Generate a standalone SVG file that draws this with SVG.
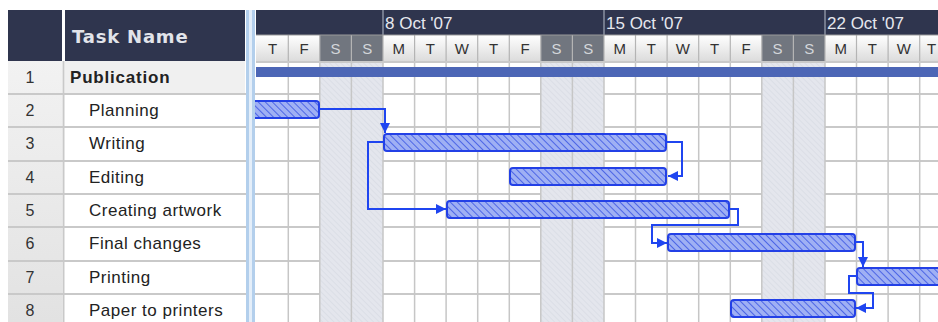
<svg xmlns="http://www.w3.org/2000/svg" width="938" height="322" viewBox="0 0 938 322">
<defs>
<style>
.hdr{fill:#2f354e}
.hdrtxt{font-family:"Liberation Sans",Arial,sans-serif;font-size:17px;fill:#e6e8ee}
.day{font-family:"Liberation Sans",Arial,sans-serif;font-size:15px;fill:#333;text-anchor:middle}
.dayw{font-family:"Liberation Sans",Arial,sans-serif;font-size:15px;fill:#d4d6da;text-anchor:middle}
.num{font-family:"Liberation Sans",Arial,sans-serif;font-size:16px;fill:#333;text-anchor:middle}
.task{font-family:"Liberation Sans",Arial,sans-serif;font-size:17px;letter-spacing:0.5px;fill:#222}
.vg{stroke:#c6c6c6;stroke-width:1.5}
.hg{stroke:#c9c9c9;stroke-width:2}
.bar{fill:url(#hatch);stroke:#2340e6;stroke-width:2}
.con{fill:none;stroke:#1f45f0;stroke-width:2}
</style>
<pattern id="hatch" width="5" height="5" patternUnits="userSpaceOnUse" patternTransform="rotate(-45)">
<rect width="5" height="5" fill="#9fb0f4"/>
<line x1="0" y1="0" x2="0" y2="5" stroke="#4d66e6" stroke-width="2"/>
</pattern>
<pattern id="wk" width="4" height="4" patternUnits="userSpaceOnUse" patternTransform="rotate(-45)">
<rect width="4" height="4" fill="#e4e6ed"/>
<line x1="0" y1="0" x2="0" y2="4" stroke="#d3d6df" stroke-width="1"/>
</pattern>
<linearGradient id="dg" x1="0" y1="0" x2="0" y2="1">
<stop offset="0" stop-color="#ffffff"/>
<stop offset="1" stop-color="#dcdcdc"/>
</linearGradient>
<linearGradient id="ng" x1="0" y1="0" x2="0" y2="1">
<stop offset="0" stop-color="#f2f2f2"/>
<stop offset="1" stop-color="#e2e2e2"/>
</linearGradient>
<marker id="ah" viewBox="0 0 10 10" refX="10" refY="5" markerWidth="10" markerHeight="10" markerUnits="userSpaceOnUse" orient="auto">
<path d="M0,0 L10,5 L0,10 z" fill="#1f45f0"/>
</marker>
</defs>
<rect width="938" height="322" fill="#ffffff"/>

<!-- table header -->
<g id="table-header">
<rect class="hdr" x="8" y="10" width="54" height="51"/>
<rect class="hdr" x="65" y="10" width="180" height="51"/>
<text x="72" y="43" font-family="DejaVu Sans,Verdana,sans-serif" font-size="18" font-weight="bold" letter-spacing="0.8" fill="#e2e4ea">Task Name</text>
</g>

<!-- table body -->
<g id="table-body">
<rect x="8" y="61" width="54" height="261" fill="url(#ng)"/>
<rect x="65" y="61" width="180" height="33" fill="#f0f0f0"/>
<line x1="63.5" y1="61" x2="63.5" y2="322" stroke="#c9c9c9" stroke-width="2"/>
<g class="hg">
<line x1="8" y1="94" x2="938" y2="94"/>
<line x1="8" y1="127" x2="938" y2="127"/>
<line x1="8" y1="161" x2="938" y2="161"/>
<line x1="8" y1="194" x2="938" y2="194"/>
<line x1="8" y1="227" x2="938" y2="227"/>
<line x1="8" y1="261" x2="938" y2="261"/>
<line x1="8" y1="294" x2="938" y2="294"/>
</g>
<text class="num" x="30" y="83">1</text>
<text class="num" x="30" y="116">2</text>
<text class="num" x="30" y="149">3</text>
<text class="num" x="30" y="183">4</text>
<text class="num" x="30" y="216">5</text>
<text class="num" x="30" y="249">6</text>
<text class="num" x="30" y="283">7</text>
<text class="num" x="30" y="316">8</text>
</g>

<!-- chart background -->
<g id="chart-bg">
<rect x="319.8" y="61" width="63.2" height="261" fill="url(#wk)"/>
<rect x="540.8" y="61" width="63.2" height="261" fill="url(#wk)"/>
<rect x="761.8" y="61" width="63.2" height="261" fill="url(#wk)"/>
<g class="vg">
<line x1="288.3" y1="61" x2="288.3" y2="322"/>
<line x1="319.8" y1="61" x2="319.8" y2="322"/>
<line x1="351.4" y1="61" x2="351.4" y2="322"/>
<line x1="383" y1="61" x2="383" y2="322"/>
<line x1="414.6" y1="61" x2="414.6" y2="322"/>
<line x1="446.1" y1="61" x2="446.1" y2="322"/>
<line x1="477.7" y1="61" x2="477.7" y2="322"/>
<line x1="509.3" y1="61" x2="509.3" y2="322"/>
<line x1="540.8" y1="61" x2="540.8" y2="322"/>
<line x1="572.4" y1="61" x2="572.4" y2="322"/>
<line x1="604" y1="61" x2="604" y2="322"/>
<line x1="635.5" y1="61" x2="635.5" y2="322"/>
<line x1="667.1" y1="61" x2="667.1" y2="322"/>
<line x1="698.7" y1="61" x2="698.7" y2="322"/>
<line x1="730.3" y1="61" x2="730.3" y2="322"/>
<line x1="761.8" y1="61" x2="761.8" y2="322"/>
<line x1="793.4" y1="61" x2="793.4" y2="322"/>
<line x1="825" y1="61" x2="825" y2="322"/>
<line x1="856.5" y1="61" x2="856.5" y2="322"/>
<line x1="888.1" y1="61" x2="888.1" y2="322"/>
<line x1="919.7" y1="61" x2="919.7" y2="322"/>
</g>
<line x1="256" y1="62" x2="938" y2="62" stroke="#c9c9c9" stroke-width="2"/>
</g>

<!-- timescale header -->
<g id="timescale">
<rect class="hdr" x="256" y="10" width="682" height="25"/>
<g stroke="#8a90a2" stroke-width="1.5">
<line x1="383" y1="10" x2="383" y2="35"/>
<line x1="604" y1="10" x2="604" y2="35"/>
<line x1="825" y1="10" x2="825" y2="35"/>
</g>
<text class="hdrtxt" x="385" y="29">8 Oct '07</text>
<text class="hdrtxt" x="606" y="29">15 Oct '07</text>
<text class="hdrtxt" x="827" y="29">22 Oct '07</text>
<rect x="256" y="35" width="682" height="26" fill="url(#dg)"/>
<rect x="319.8" y="35" width="63.2" height="26" fill="#71767f"/>
<rect x="540.8" y="35" width="63.2" height="26" fill="#71767f"/>
<rect x="761.8" y="35" width="63.2" height="26" fill="#71767f"/>
<g stroke="#b4b4b4" stroke-width="1.2">
<line x1="288.3" y1="35" x2="288.3" y2="61"/>
<line x1="319.8" y1="35" x2="319.8" y2="61"/>
<line x1="351.4" y1="35" x2="351.4" y2="61"/>
<line x1="383" y1="35" x2="383" y2="61"/>
<line x1="414.6" y1="35" x2="414.6" y2="61"/>
<line x1="446.1" y1="35" x2="446.1" y2="61"/>
<line x1="477.7" y1="35" x2="477.7" y2="61"/>
<line x1="509.3" y1="35" x2="509.3" y2="61"/>
<line x1="540.8" y1="35" x2="540.8" y2="61"/>
<line x1="572.4" y1="35" x2="572.4" y2="61"/>
<line x1="604" y1="35" x2="604" y2="61"/>
<line x1="635.5" y1="35" x2="635.5" y2="61"/>
<line x1="667.1" y1="35" x2="667.1" y2="61"/>
<line x1="698.7" y1="35" x2="698.7" y2="61"/>
<line x1="730.3" y1="35" x2="730.3" y2="61"/>
<line x1="761.8" y1="35" x2="761.8" y2="61"/>
<line x1="793.4" y1="35" x2="793.4" y2="61"/>
<line x1="825" y1="35" x2="825" y2="61"/>
<line x1="856.5" y1="35" x2="856.5" y2="61"/>
<line x1="888.1" y1="35" x2="888.1" y2="61"/>
<line x1="919.7" y1="35" x2="919.7" y2="61"/>
</g>
<text class="day" x="272.5" y="54">T</text>
<text class="day" x="304" y="54">F</text>
<text class="dayw" x="335.6" y="54">S</text>
<text class="dayw" x="367.2" y="54">S</text>
<text class="day" x="398.8" y="54">M</text>
<text class="day" x="430.3" y="54">T</text>
<text class="day" x="461.9" y="54">W</text>
<text class="day" x="493.5" y="54">T</text>
<text class="day" x="525" y="54">F</text>
<text class="dayw" x="556.6" y="54">S</text>
<text class="dayw" x="588.2" y="54">S</text>
<text class="day" x="619.8" y="54">M</text>
<text class="day" x="651.3" y="54">T</text>
<text class="day" x="682.9" y="54">W</text>
<text class="day" x="714.5" y="54">T</text>
<text class="day" x="746" y="54">F</text>
<text class="dayw" x="777.6" y="54">S</text>
<text class="dayw" x="809.2" y="54">S</text>
<text class="day" x="840.8" y="54">M</text>
<text class="day" x="872.3" y="54">T</text>
<text class="day" x="903.9" y="54">W</text>
<text class="day" x="931.5" y="54">T</text>
<line x1="256" y1="35" x2="938" y2="35" stroke="#9a9a9a" stroke-width="1"/>
</g>

<!-- splitter -->
<rect x="246" y="10" width="9" height="312" fill="#b3cfec"/>
<rect x="249" y="10" width="3" height="312" fill="#e4eef9"/>

<!-- tasks -->
<g id="task1">
<text x="70" y="83" font-family="Liberation Sans,Arial,sans-serif" font-size="17" font-weight="bold" letter-spacing="0.8" fill="#222">Publication</text>
<rect x="256" y="67" width="682" height="10" fill="#4c66b6"/>
</g>
<g id="task2">
<text class="task" x="89" y="116">Planning</text>
<rect class="bar" x="250" y="101" width="69" height="17" rx="3"/>
</g>
<g id="task3">
<text class="task" x="89" y="149">Writing</text>
<rect class="bar" x="384" y="134" width="282" height="17" rx="3"/>
</g>
<g id="task4">
<text class="task" x="89" y="183">Editing</text>
<rect class="bar" x="510" y="168" width="156" height="17" rx="3"/>
</g>
<g id="task5">
<text class="task" x="89" y="216">Creating artwork</text>
<rect class="bar" x="447" y="201" width="282" height="17" rx="3"/>
</g>
<g id="task6">
<text class="task" x="89" y="249">Final changes</text>
<rect class="bar" x="668" y="234" width="187" height="17" rx="3"/>
</g>
<g id="task7">
<text class="task" x="89" y="283">Printing</text>
<rect class="bar" x="857" y="268" width="90" height="17" rx="3"/>
</g>
<g id="task8">
<text class="task" x="89" y="316">Paper to printers</text>
<rect class="bar" x="731" y="300" width="124" height="17" rx="3"/>
</g>

<!-- redraw splitter over planning bar start -->
<rect x="246" y="94" width="9" height="33" fill="#b3cfec"/>
<rect x="249" y="94" width="3" height="33" fill="#e4eef9"/>

<g id="connectors">
<path class="con" d="M319 109 H385 V133" marker-end="url(#ah)"/>
<path class="con" d="M384 142 H368 V209 H446" marker-end="url(#ah)"/>
<path class="con" d="M666 142 H682 V176 H668" marker-end="url(#ah)"/>
<path class="con" d="M729 209 H738 V225 H652 V243 H667" marker-end="url(#ah)"/>
<path class="con" d="M855 242 H863 V267" marker-end="url(#ah)"/>
<path class="con" d="M857 276 H849 V293 H873 V308 H856" marker-end="url(#ah)"/>
</g>
</svg>
